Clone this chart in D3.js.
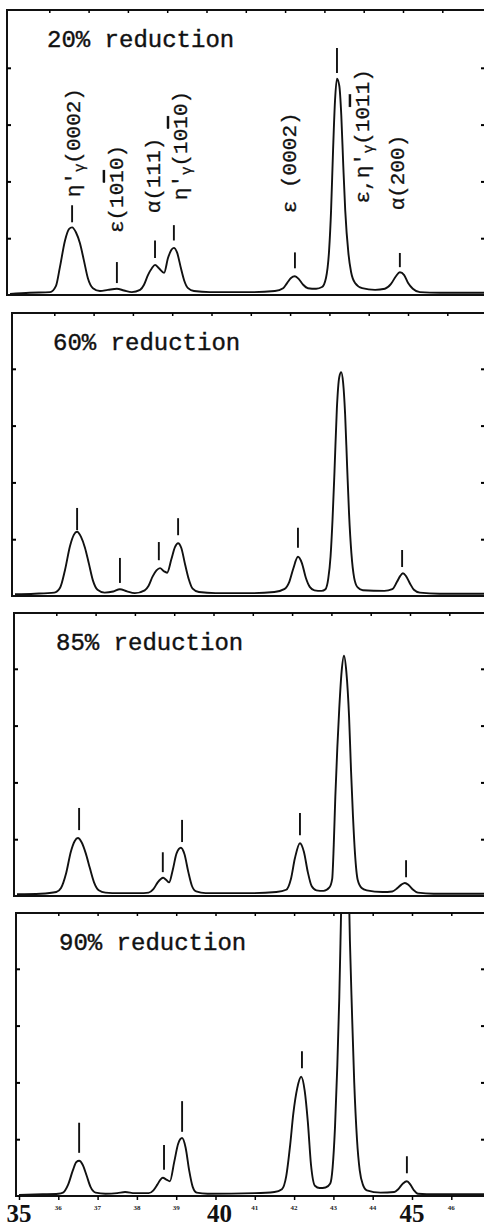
<!DOCTYPE html>
<html>
<head>
<meta charset="utf-8">
<script src="https://cdn.jsdelivr.net/npm/d3@7"></script>
<style>
  body { margin: 0; background: #fff; overflow: hidden; }
  svg { display: block; }
</style>
</head>
<body>
<script>
// x-ray traces, 2theta (deg) vs intensity (tick units)
var reductions = ["20% reduction", "60% reduction", "85% reduction", "90% reduction"];

var trace20 = [[35.0,0.02],[35.5,0.04],[36.02,0.05],[36.17,0.16],[36.27,0.49],[36.4,0.96],[36.5,1.16],[36.58,1.19],
  [36.68,1.1],[36.78,0.91],[36.88,0.61],[36.98,0.3],[37.11,0.12],[37.29,0.07],[37.49,0.09],[37.72,0.11],[37.9,0.08],
  [38.1,0.05],[38.31,0.09],[38.41,0.18],[38.51,0.35],[38.61,0.47],[38.69,0.53],[38.79,0.47],[38.92,0.39],[39.02,0.65],
  [39.1,0.79],[39.17,0.83],[39.25,0.75],[39.35,0.47],[39.43,0.26],[39.53,0.12],[39.68,0.07],[40.09,0.05],[41.11,0.05],
  [41.74,0.07],[41.95,0.12],[42.05,0.21],[42.15,0.3],[42.25,0.33],[42.35,0.28],[42.46,0.18],[42.58,0.12],[42.79,0.11],
  [42.94,0.14],[43.04,0.3],[43.12,0.79],[43.17,1.49],[43.22,2.54],[43.27,3.42],[43.32,3.81],[43.38,3.68],[43.43,3.16],
  [43.48,2.28],[43.53,1.49],[43.61,0.74],[43.68,0.4],[43.78,0.21],[43.96,0.12],[44.29,0.09],[44.54,0.11],[44.69,0.19],
  [44.82,0.33],[44.92,0.4],[45.03,0.35],[45.13,0.21],[45.25,0.11],[45.43,0.05],[45.94,0.04],[47.2,0.04]];

var trace60 = [[35.0,0.03],[35.5,0.04],[36.0,0.06],[36.15,0.15],[36.27,0.45],[36.4,0.88],[36.5,1.08],[36.58,1.13],
  [36.68,1.04],[36.78,0.85],[36.88,0.57],[36.98,0.28],[37.1,0.11],[37.28,0.06],[37.5,0.08],[37.67,0.12],[37.85,0.08],
  [38.05,0.05],[38.3,0.1],[38.4,0.18],[38.5,0.34],[38.6,0.45],[38.69,0.49],[38.78,0.44],[38.87,0.41],[38.98,0.65],
  [39.07,0.86],[39.15,0.93],[39.23,0.85],[39.33,0.55],[39.42,0.3],[39.52,0.13],[39.68,0.07],[40.1,0.05],[41.0,0.05],
  [41.6,0.07],[41.85,0.12],[41.98,0.25],[42.08,0.48],[42.2,0.69],[42.3,0.58],[42.4,0.32],[42.5,0.16],[42.62,0.1],
  [42.8,0.09],[42.9,0.12],[42.97,0.3],[43.03,0.7],[43.08,1.35],[43.13,2.2],[43.19,3.3],[43.25,3.85],[43.3,3.94],
  [43.35,3.75],[43.4,3.2],[43.45,2.3],[43.5,1.45],[43.56,0.75],[43.63,0.32],[43.72,0.15],[43.85,0.1],[44.4,0.09],
  [44.6,0.12],[44.72,0.25],[44.8,0.35],[44.87,0.4],[44.95,0.35],[45.05,0.22],[45.15,0.11],[45.3,0.06],[45.8,0.04],[47.2,0.04]];

var trace85 = [[35.0,0.03],[35.6,0.04],[36.0,0.07],[36.12,0.14],[36.25,0.4],[36.37,0.78],[36.47,0.97],[36.55,1.02],
  [36.64,0.95],[36.75,0.75],[36.85,0.5],[36.96,0.24],[37.08,0.1],[37.25,0.06],[37.6,0.05],[38.1,0.05],[38.35,0.06],
  [38.47,0.12],[38.58,0.24],[38.66,0.3],[38.72,0.32],[38.8,0.28],[38.87,0.24],[38.96,0.45],[39.06,0.75],[39.17,0.85],
  [39.26,0.74],[39.36,0.42],[39.45,0.18],[39.56,0.08],[39.8,0.05],[41.0,0.05],[41.6,0.07],[41.85,0.11],[41.97,0.3],
  [42.07,0.66],[42.2,0.93],[42.3,0.78],[42.4,0.42],[42.5,0.17],[42.62,0.1],[42.8,0.09],[42.95,0.15],[43.02,0.3],
  [43.06,0.9],[43.1,1.75],[43.15,2.6],[43.2,3.3],[43.26,3.95],[43.32,4.23],[43.38,3.95],[43.45,3.15],[43.5,2.2],
  [43.55,1.39],[43.6,0.75],[43.67,0.28],[43.77,0.14],[43.9,0.1],[44.3,0.07],[44.55,0.08],[44.68,0.14],[44.78,0.2],
  [44.87,0.23],[44.97,0.19],[45.08,0.11],[45.2,0.06],[45.6,0.04],[47.2,0.04]];

var trace90 = [[35.0,0.02],[35.6,0.03],[36.0,0.04],[36.12,0.06],[36.25,0.2],[36.37,0.45],[36.46,0.6],[36.53,0.62],
  [36.62,0.55],[36.72,0.36],[36.82,0.16],[36.95,0.06],[37.2,0.04],[37.5,0.05],[37.7,0.07],[37.95,0.05],[38.3,0.05],
  [38.42,0.1],[38.52,0.2],[38.6,0.29],[38.66,0.32],[38.75,0.29],[38.84,0.26],[38.95,0.6],[39.05,0.92],[39.15,1.02],
  [39.24,0.85],[39.33,0.45],[39.42,0.16],[39.52,0.06],[39.8,0.04],[41.0,0.05],[41.5,0.07],[41.69,0.12],[41.8,0.35],
  [41.9,0.9],[41.98,1.45],[42.08,1.9],[42.18,2.1],[42.27,1.85],[42.35,1.3],[42.43,0.55],[42.53,0.18],[42.65,0.14],
  [42.8,0.15],[42.92,0.22],[42.98,0.5],[43.04,1.2],[43.1,2.3],[43.15,3.5],[43.19,4.8],[43.24,6.5],[43.3,7.2],
  [43.36,6.5],[43.42,4.5],[43.47,3.3],[43.53,2.0],[43.6,1.0],[43.67,0.45],[43.75,0.2],[43.85,0.1],[44.2,0.06],
  [44.55,0.07],[44.65,0.12],[44.77,0.22],[44.87,0.26],[44.96,0.2],[45.05,0.1],[45.15,0.04],[45.6,0.03],[47.2,0.03]];

// peak markers: [2theta, low, high]
var marks20 = [[36.58,1.28,1.58],[37.72,0.21,0.58],[38.69,0.65,0.96],[39.17,0.96,1.23],[42.25,0.47,0.75],[43.32,3.91,4.35],[44.92,0.49,0.74]];
var marks60 = [[36.58,1.16,1.55],[37.67,0.23,0.67],[38.66,0.63,0.95],[39.15,1.07,1.37],[42.2,0.85,1.2],[44.85,0.51,0.81]];
var marks85 = [[36.58,1.16,1.55],[38.71,0.42,0.77],[39.2,0.95,1.34],[42.2,1.07,1.46],[44.9,0.33,0.63]];
var marks90 = [[36.53,0.76,1.29],[38.69,0.46,0.9],[39.15,1.13,1.67],[42.2,2.25,2.55],[44.87,0.4,0.7]];

// phase labels on the top pattern: [2theta, start level, pieces]
// a piece is [text] or [text, "sub"] (subscript) or [text, "bar"] (overlined index)
var peakLabels = [
  [36.62, 1.72, [["\u03b7\u2032"], ["\u03b3", "sub"], ["(0002)"]]],
  [37.72, 1.09, [["\u03b5(10"], ["1", "bar"], ["0)"]]],
  [38.66, 1.44, [["\u03b1(111)"]]],
  [39.35, 1.67, [["\u03b7\u2032"], ["\u03b3", "sub"], ["(10"], ["1", "bar"], ["0)"]]],
  [42.12, 1.44, [["\u03b5 (0002)"]]],
  [43.98, 1.61, [["\u03b5,\u03b7\u2032"], ["\u03b3", "sub"], ["(10"], ["1", "bar"], ["1)"]]],
  [44.87, 1.49, [["\u03b1(200)"]]]
];

var majorTicks = [35, 40, 45];
var minorTicks = [36, 37, 38, 39, 41, 42, 43, 44, 46];
var yTicks = [1, 2, 3, 4];

var traces = [trace20, trace60, trace85, trace90];
var marks = [marks20, marks60, marks85, marks90];

// panel frames as they sit on the page
var boxes = [
  {left: 7, top: 10, bottom: 295},
  {left: 12, top: 313, bottom: 596},
  {left: 14, top: 613, bottom: 896},
  {left: 16, top: 913, bottom: 1196}
];
var rightEdge = 487;
var degPx = 39.3;
var mono = "Liberation Mono, DejaVu Sans Mono, monospace";

var svg = d3.select("body").append("svg")
  .attr("width", 484)
  .attr("height", 1226);

var line = d3.line().curve(d3.curveMonotoneX);

boxes.forEach(function(b, i) {
  var x = d3.scaleLinear()
    .domain([35, 35 + (rightEdge - b.left - 3) / degPx])
    .range([b.left + 3, rightEdge]);
  var y = d3.scaleLinear()
    .domain([0, 5])
    .range([b.bottom, b.bottom - 5 * 56.8]);

  var g = svg.append("g");

  svg.append("clipPath").attr("id", "clip" + i)
    .append("rect")
    .attr("x", b.left).attr("y", b.top)
    .attr("width", rightEdge - b.left).attr("height", b.bottom - b.top);

  // frame
  g.append("rect")
    .attr("x", b.left).attr("y", b.top)
    .attr("width", rightEdge - b.left).attr("height", b.bottom - b.top)
    .attr("fill", "none").attr("stroke", "#111").attr("stroke-width", 2);

  // ticks on left and right sides
  g.append("g").attr("transform", "translate(" + b.left + ",0)")
    .call(d3.axisLeft(y).tickValues(yTicks).tickSize(-4).tickFormat(""))
    .call(function(a) { a.select(".domain").remove(); a.selectAll("line").attr("stroke-width", 2); });
  g.append("g").attr("transform", "translate(" + (rightEdge - 2) + ",0)")
    .call(d3.axisRight(y).tickValues(yTicks).tickSize(-4).tickFormat(""))
    .call(function(a) { a.select(".domain").remove(); a.selectAll("line").attr("stroke-width", 2); });

  // small ticks along the top
  g.append("g").attr("transform", "translate(0," + b.top + ")")
    .call(d3.axisTop(x).tickValues(minorTicks.concat([40, 45])).tickSize(-3).tickFormat(""))
    .call(function(a) { a.select(".domain").remove(); a.selectAll("line").attr("stroke-width", 1.5); });

  // the trace
  g.append("path")
    .datum(traces[i])
    .attr("clip-path", "url(#clip" + i + ")")
    .attr("d", line.x(function(d) { return x(d[0]); }).y(function(d) { return y(d[1]); }))
    .attr("fill", "none")
    .attr("stroke", "#111")
    .attr("stroke-width", 1.9);

  // peak markers
  g.selectAll(".mark")
    .data(marks[i])
    .enter().append("line")
    .attr("x1", function(d) { return x(d[0]); })
    .attr("x2", function(d) { return x(d[0]); })
    .attr("y1", function(d) { return y(d[1]); })
    .attr("y2", function(d) { return y(d[2]); })
    .attr("stroke", "#111")
    .attr("stroke-width", 1.9);

  // panel title
  g.append("text")
    .attr("x", b.left + 40 + i)
    .attr("y", b.top + 37)
    .attr("font-family", mono)
    .attr("font-size", 24)
    .attr("fill", "#111")
    .attr("stroke", "#111")
    .attr("stroke-width", 0.4)
    .text(reductions[i]);

  if (i === 0) {
    g.selectAll(".plab")
      .data(peakLabels)
      .enter().append("text")
      .attr("transform", function(d) { return "translate(" + x(d[0]) + "," + y(d[1]) + ") rotate(-90)"; })
      .attr("dominant-baseline", "central")
      .attr("font-family", mono)
      .attr("font-size", 21)
      .attr("fill", "#111")
      .attr("stroke", "#111")
      .attr("stroke-width", 0.3)
      .each(function(d) {
        var t = d3.select(this), shift = 0;
        d[2].forEach(function(p) {
          var s = t.append("tspan").text(p[0]);
          var want = p[1] === "sub" ? 6 : 0;
          if (want !== shift) { s.attr("dy", want - shift); shift = want; }
          if (p[1] === "sub") s.attr("font-size", 14);
          if (p[1] === "bar") s.style("text-decoration", "overline");
        });
      });
  }

  if (i === 3) {
    var ax = g.append("g").attr("transform", "translate(0," + b.bottom + ")");
    ax.call(d3.axisBottom(x).tickValues(majorTicks.concat(minorTicks)).tickSize(4).tickFormat(""))
      .call(function(a) { a.select(".domain").remove(); a.selectAll("line").attr("stroke-width", 1.5); });
    ax.selectAll(".major")
      .data(majorTicks)
      .enter().append("text")
      .attr("x", function(d) { return x(d) + (d === 40 ? 4 : 0); })
      .attr("y", 26)
      .attr("text-anchor", "middle")
      .attr("font-family", "Liberation Serif, Times New Roman, serif")
      .attr("font-weight", "bold")
      .attr("font-size", 25)
      .attr("fill", "#111")
      .text(function(d) { return d; });
    ax.selectAll(".minor")
      .data(minorTicks)
      .enter().append("text")
      .attr("x", function(d) { return x(d); })
      .attr("y", 14)
      .attr("text-anchor", "middle")
      .attr("font-family", "Liberation Serif, serif")
      .attr("font-weight", "bold")
      .attr("font-size", 7)
      .attr("fill", "#222")
      .text(function(d) { return d; });
  }
});
</script>
</body>
</html>
